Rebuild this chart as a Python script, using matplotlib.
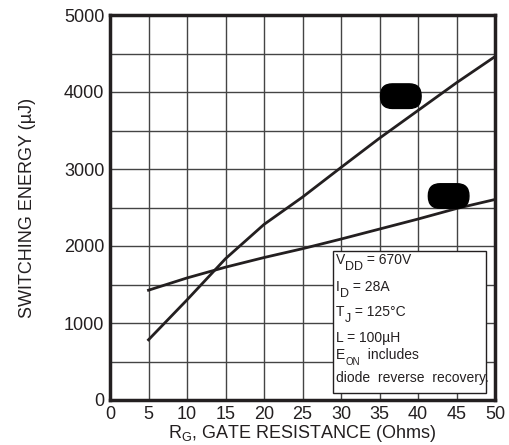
import matplotlib
matplotlib.use("Agg")
import matplotlib.pyplot as plt
from matplotlib.patches import Rectangle
from matplotlib.transforms import offset_copy

plt.rcParams['font.family'] = ['Liberation Sans', 'DejaVu Sans']

# Data
rg = [5, 10, 15, 20, 25, 30, 35, 40, 45, 50]
eon = [782, 1300, 1835, 2280, 2635, 3020, 3400, 3760, 4120, 4460]
eoff = [1426, 1585, 1725, 1850, 1965, 2090, 2220, 2350, 2487, 2604]
label_x = [37.77, 43.98]
label_y = [3946, 2649]
xticks = [0, 5, 10, 15, 20, 25, 30, 35, 40, 45, 50]
yticks = [0, 1000, 2000, 3000, 4000, 5000]
# (main, subscript, rest)
legend_lines = [("V", "DD", " = 670V"), ("I", "D", " = 28A"), ("T", "J", " = 125°C"),
                ("L = 100µH", "", ""), ("E", "ON", "  includes"),
                ("diode  reverse  recovery.", "", "")]
legend_sub_size = [9, 9, 9, 9, 7, 9]
legend_y = [1766, 1415, 1095, 757, 532, 238]

fig = plt.figure(figsize=(5.09, 4.45), dpi=100)
ax = fig.add_axes([110/509, 45/445, 385/509, 385/445])
ax.set_xlim(0, 50)
ax.set_ylim(0, 5000)

for x in range(5, 50, 5):
    ax.axvline(x, color='#444444', lw=1.0, zorder=1)
for y in range(500, 5000, 500):
    ax.axhline(y, color='#444444', lw=1.0, zorder=1)

ax.plot(rg, eon, color='#231f20', lw=2.0, zorder=3)
ax.plot(rg, eoff, color='#231f20', lw=2.0, zorder=3)

for lx, ly in zip(label_x, label_y):
    ax.text(lx, ly, "EON", ha='center', va='center', fontsize=10, color='black',
            bbox=dict(boxstyle='round,pad=0.38,rounding_size=0.85', fc='black', ec='black'),
            zorder=4)

ax.add_patch(Rectangle((29.0, 95), 19.8, 1845, fc='white', ec='#231f20', lw=1.0, zorder=5))

for s in ax.spines.values():
    s.set_linewidth(2.5)
    s.set_color('#231f20')

ax.set_xticks(xticks)
ax.set_yticks(yticks)
ax.tick_params(length=0, labelsize=13, pad=4, colors='#231f20')
ax.set_xlabel(r"R$_{\mathregular{G}}$, GATE RESISTANCE (Ohms)", fontsize=13, labelpad=0, color='#231f20')
ax.set_ylabel("SWITCHING ENERGY (µJ)", fontsize=13, labelpad=20, color='#231f20')

fig.canvas.draw()
renderer = fig.canvas.get_renderer()
for (main, sub, rest), y, ss in zip(legend_lines, legend_y, legend_sub_size):
    t = ax.text(29.3, y, main, fontsize=10, ha='left', va='baseline', zorder=6, color='#231f20')
    if sub:
        bb = t.get_window_extent(renderer)
        xd = ax.transData.inverted().transform((bb.x1 + 0.5, 0))[0]
        trs = offset_copy(ax.transData, fig=fig, x=0, y=-4.5, units='points')
        t2 = ax.text(xd, y, sub, fontsize=ss, ha='left', va='baseline', zorder=6,
                     color='#231f20', transform=trs)
        bb2 = t2.get_window_extent(renderer)
        xd2 = ax.transData.inverted().transform((bb2.x1, 0))[0]
        ax.text(xd2, y, rest, fontsize=10, ha='left', va='baseline', zorder=6, color='#231f20')

fig.savefig("out.png", dpi=100)
